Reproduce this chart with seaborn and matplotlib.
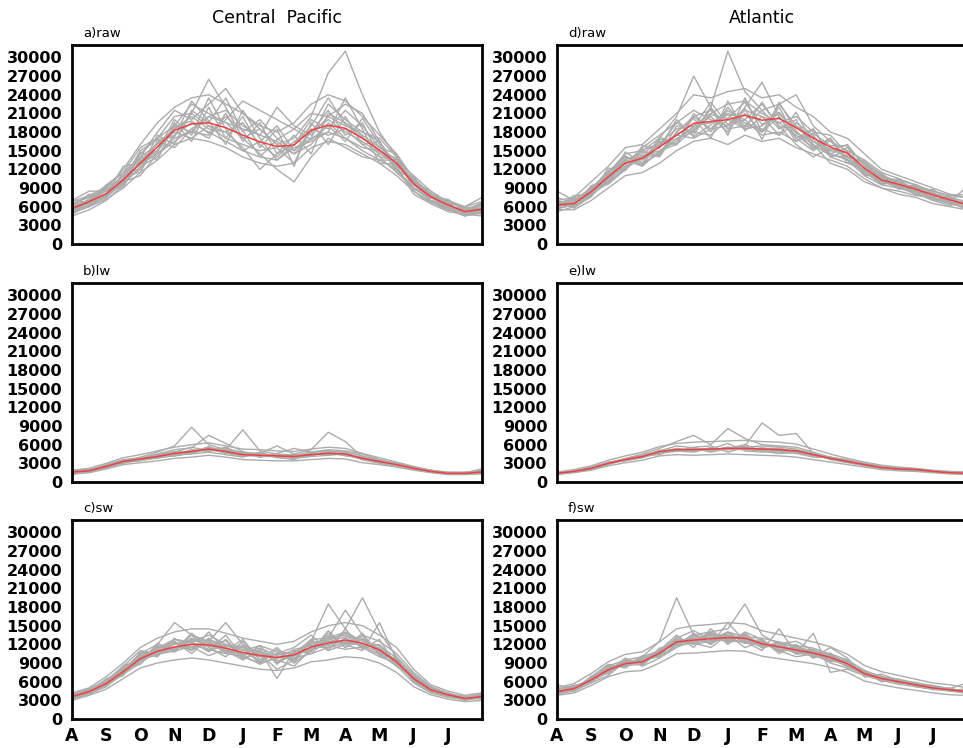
import numpy as np
import pandas as pd
import matplotlib
matplotlib.use('Agg')
import matplotlib.pyplot as plt
import seaborn as sns

# x positions in months since 1 Aug (25 points, half-month spacing)
months = [i * 0.5 for i in range(25)]
month_labels = ['A', 'S', 'O', 'N', 'D', 'J', 'F', 'M', 'A', 'M', 'J', 'J', '']
yticks = list(range(0, 30001, 3000))

# values in thousands
cp_raw_mean = [5.7, 6.8, 8.1, 10.3, 13.0, 15.6, 18.3, 19.3, 19.5, 18.7, 17.5, 16.4, 15.7,
               15.9, 18.3, 19.1, 18.6, 17.0, 15.1, 13.0, 9.7, 7.6, 6.3, 5.2, 5.6]
cp_raw_members = [
    [6.5, 7.5, 9.0, 12.0, 16.0, 19.5, 22.0, 23.5, 24.0, 22.5, 21.0, 19.0, 18.0, 19.5, 22.5, 24.0, 23.0, 20.5, 17.5, 14.5, 10.5, 8.0, 6.5, 6.0, 6.8],
    [5.0, 6.0, 7.2, 9.0, 11.5, 13.5, 16.0, 17.0, 16.5, 15.5, 14.0, 13.0, 12.5, 13.0, 15.5, 16.5, 16.0, 14.5, 13.0, 11.0, 8.5, 6.5, 5.5, 4.5, 5.0],
    [6.0, 7.0, 9.5, 11.5, 14.0, 18.0, 21.5, 20.0, 22.5, 25.0, 21.0, 18.5, 16.0, 17.0, 20.5, 27.5, 31.0, 24.0, 18.0, 14.0, 10.0, 7.0, 6.0, 5.5, 6.5],
    [4.5, 5.5, 7.0, 9.5, 12.5, 14.0, 17.5, 21.0, 26.5, 22.0, 17.0, 14.5, 12.0, 10.0, 14.0, 17.0, 15.5, 14.0, 13.5, 12.0, 9.0, 7.5, 6.0, 4.8, 4.5],
    [7.0, 8.5, 8.5, 11.0, 14.5, 17.0, 19.0, 18.0, 17.5, 20.0, 23.0, 21.5, 20.0, 18.5, 21.0, 20.5, 22.5, 21.0, 16.5, 12.5, 10.5, 8.0, 7.0, 6.0, 7.5],
    [5.5, 6.5, 8.0, 10.0, 12.0, 16.5, 17.5, 19.5, 18.0, 16.5, 15.0, 14.0, 13.5, 15.5, 16.5, 18.0, 17.0, 15.0, 13.5, 13.5, 11.0, 8.5, 6.5, 5.0, 5.2],
    [6.2, 7.0, 8.5, 9.5, 13.5, 15.0, 19.0, 22.5, 21.0, 19.5, 18.5, 17.5, 22.0, 19.0, 17.5, 20.5, 19.0, 18.0, 16.5, 12.0, 8.5, 6.8, 5.8, 4.5, 5.5],
    [4.8, 6.2, 7.5, 10.5, 14.0, 16.0, 18.0, 17.0, 19.0, 18.0, 15.5, 12.0, 14.5, 16.0, 20.0, 18.5, 21.5, 19.0, 15.5, 13.5, 10.0, 8.5, 6.8, 5.8, 6.0],
    [5.8, 7.2, 8.8, 10.8, 12.8, 14.5, 16.5, 18.5, 20.5, 21.5, 19.0, 17.5, 16.5, 14.5, 17.0, 22.5, 20.0, 18.0, 17.0, 14.0, 9.5, 7.5, 6.0, 5.0, 5.8],
    [6.8, 7.8, 9.2, 11.5, 15.5, 17.0, 20.5, 21.0, 19.0, 17.0, 16.0, 15.0, 15.5, 13.0, 18.5, 17.5, 18.5, 16.0, 14.0, 11.5, 9.0, 7.0, 5.5, 5.5, 6.2],
    [5.2, 6.0, 7.8, 10.0, 11.0, 14.5, 17.0, 18.0, 20.5, 19.5, 17.0, 18.5, 16.0, 14.5, 16.0, 19.5, 17.0, 15.5, 15.0, 12.5, 8.0, 6.5, 5.2, 4.8, 5.0],
    [6.0, 6.5, 7.5, 9.8, 13.2, 16.2, 18.5, 20.5, 18.5, 18.0, 19.5, 16.0, 14.0, 16.5, 18.0, 20.0, 18.0, 16.5, 14.5, 13.0, 10.2, 7.8, 6.8, 5.5, 5.8],
    [6.0, 8.0, 7.5, 11.5, 12.0, 17.5, 16.0, 21.5, 19.5, 23.5, 18.0, 20.0, 17.0, 15.0, 18.0, 21.5, 17.5, 19.5, 14.0, 13.5, 9.0, 8.0, 6.0, 5.5, 5.0],
    [5.5, 6.8, 9.0, 9.0, 14.8, 13.5, 19.5, 16.5, 22.0, 17.0, 20.5, 15.5, 18.5, 12.5, 19.5, 16.0, 20.5, 16.0, 16.5, 12.0, 10.5, 7.0, 6.5, 4.8, 6.5],
    [7.2, 6.5, 8.0, 11.0, 11.5, 16.5, 15.5, 18.5, 17.0, 21.0, 16.5, 19.5, 14.5, 17.5, 14.5, 21.0, 19.5, 17.5, 15.5, 14.5, 9.5, 8.2, 5.8, 5.8, 5.4],
    [4.8, 7.0, 8.6, 10.4, 13.8, 15.0, 20.0, 17.5, 23.5, 18.5, 15.0, 16.5, 19.0, 15.0, 17.0, 18.0, 23.5, 18.5, 13.0, 12.8, 9.8, 6.8, 6.2, 5.2, 4.8],
    [6.4, 7.6, 7.8, 12.5, 13.0, 14.8, 18.8, 19.8, 17.8, 20.5, 18.2, 14.0, 16.8, 18.5, 16.8, 19.0, 16.5, 20.2, 16.0, 11.5, 10.8, 7.4, 7.2, 5.4, 6.6],
    [5.4, 6.2, 9.4, 10.2, 15.0, 16.8, 17.2, 23.0, 19.8, 16.0, 21.5, 17.0, 13.5, 16.0, 19.0, 23.5, 19.2, 17.2, 14.8, 13.8, 8.8, 7.8, 5.6, 5.2, 5.6],
]

cp_lw_mean = [1.6, 1.8, 2.5, 3.3, 3.7, 4.1, 4.6, 4.9, 5.3, 4.9, 4.4, 4.3, 4.2,
              4.1, 4.4, 4.6, 4.5, 3.8, 3.3, 2.8, 2.2, 1.7, 1.4, 1.4, 1.6]
cp_lw_members = [
    [1.9, 2.2, 3.0, 3.9, 4.4, 5.0, 5.6, 6.0, 6.3, 5.8, 5.3, 5.2, 5.0, 4.9, 5.3, 5.6, 5.4, 4.6, 3.9, 3.2, 2.5, 1.9, 1.6, 1.6, 1.8],
    [1.3, 1.5, 2.1, 2.8, 3.1, 3.4, 3.8, 4.0, 4.3, 4.0, 3.6, 3.5, 3.4, 3.4, 3.6, 3.8, 3.7, 3.1, 2.8, 2.4, 1.9, 1.5, 1.2, 1.2, 1.3],
    [1.7, 1.9, 2.6, 3.5, 4.0, 4.8, 5.8, 8.8, 6.0, 5.2, 8.4, 5.0, 4.5, 4.3, 4.8, 5.0, 4.8, 4.2, 3.5, 3.0, 2.4, 1.8, 1.5, 1.5, 2.1],
    [1.5, 1.7, 2.4, 3.0, 3.5, 3.9, 4.2, 4.7, 5.5, 5.2, 4.8, 4.6, 5.8, 4.5, 5.2, 8.0, 6.5, 4.0, 3.4, 2.9, 2.3, 1.8, 1.4, 1.3, 1.5],
    [2.0, 1.9, 2.8, 3.6, 3.8, 4.5, 5.2, 5.5, 7.5, 6.2, 4.9, 4.0, 4.6, 5.4, 4.8, 5.2, 5.0, 4.5, 3.6, 3.0, 2.0, 1.6, 1.5, 1.4, 1.7],
    [1.4, 1.6, 2.3, 3.1, 3.6, 3.8, 4.4, 4.5, 4.8, 4.4, 4.0, 4.8, 3.9, 3.8, 4.1, 4.3, 4.6, 3.6, 3.1, 2.6, 2.1, 1.6, 1.3, 1.3, 1.5],
    [1.8, 2.0, 2.7, 3.4, 3.9, 4.3, 4.8, 5.6, 5.0, 5.5, 4.6, 4.2, 4.4, 4.2, 4.2, 4.9, 4.2, 3.9, 3.2, 2.7, 2.2, 1.7, 1.4, 1.5, 1.6],
    [1.2, 1.6, 2.2, 3.2, 3.4, 4.0, 4.2, 4.6, 5.6, 4.6, 4.2, 4.4, 4.0, 3.6, 4.6, 4.4, 4.8, 3.6, 3.0, 2.6, 2.4, 1.9, 1.5, 1.3, 1.4],
    [1.6, 1.8, 2.6, 3.2, 3.8, 4.2, 4.5, 5.1, 5.2, 4.7, 4.5, 4.5, 4.3, 4.3, 4.5, 4.4, 4.4, 4.0, 3.4, 2.8, 2.1, 1.6, 1.4, 1.4, 1.6],
    [1.5, 2.0, 2.4, 3.4, 3.6, 4.4, 4.9, 4.6, 5.4, 5.0, 4.3, 4.1, 4.1, 4.0, 4.6, 4.7, 4.3, 3.7, 3.3, 2.9, 2.2, 1.7, 1.3, 1.4, 1.9],
    [1.5, 1.9, 2.3, 3.5, 3.5, 4.4, 4.3, 5.2, 4.9, 5.6, 4.1, 4.6, 4.0, 4.4, 4.2, 5.0, 4.3, 4.0, 3.1, 2.9, 2.1, 1.8, 1.3, 1.5, 1.5],
    [1.7, 1.7, 2.7, 3.1, 3.9, 3.9, 4.9, 4.7, 5.7, 4.6, 4.8, 4.0, 4.5, 3.9, 4.7, 4.4, 4.7, 3.6, 3.5, 2.7, 2.3, 1.6, 1.5, 1.3, 1.7],
    [1.6, 2.1, 2.4, 3.3, 3.6, 4.2, 4.7, 5.0, 5.1, 5.2, 4.2, 4.5, 4.1, 4.2, 4.3, 4.8, 4.4, 3.9, 3.2, 2.9, 2.1, 1.8, 1.4, 1.4, 1.5],
]

cp_sw_mean = [3.6, 4.4, 5.7, 7.6, 9.7, 10.9, 11.6, 12.0, 11.9, 11.4, 10.7, 10.2, 9.9,
              10.3, 11.6, 12.2, 12.7, 12.2, 11.1, 9.2, 6.5, 4.7, 3.9, 3.3, 3.6]
cp_sw_members = [
    [4.2, 5.0, 6.8, 9.0, 11.5, 13.0, 14.0, 14.5, 14.5, 13.8, 13.0, 12.5, 12.0, 12.5, 14.0, 15.0, 15.5, 15.0, 13.5, 11.5, 8.0, 5.5, 4.5, 3.8, 4.2],
    [3.0, 3.8, 4.8, 6.5, 8.2, 9.0, 9.5, 9.8, 9.5, 9.0, 8.5, 8.0, 7.8, 8.2, 9.2, 9.5, 10.0, 9.8, 9.0, 7.5, 5.2, 3.9, 3.2, 2.8, 3.0],
    [3.8, 4.6, 6.0, 8.0, 10.5, 12.0, 15.5, 13.5, 12.5, 15.5, 12.0, 10.5, 8.0, 9.5, 12.5, 18.5, 14.5, 19.5, 14.0, 10.0, 7.0, 5.0, 4.0, 3.5, 3.8],
    [3.3, 4.0, 5.3, 7.2, 9.0, 11.5, 12.5, 10.5, 13.0, 11.0, 9.5, 11.0, 6.5, 11.0, 10.5, 13.0, 17.5, 13.5, 12.5, 10.5, 7.5, 5.2, 4.2, 3.4, 3.3],
    [4.0, 4.8, 6.2, 8.5, 11.0, 10.5, 11.0, 13.8, 11.5, 10.0, 12.5, 9.5, 10.5, 11.5, 13.5, 11.0, 12.0, 11.0, 15.5, 9.5, 6.0, 4.4, 3.7, 3.2, 4.2],
    [3.5, 4.2, 5.5, 7.5, 9.5, 11.8, 11.2, 12.5, 10.8, 12.8, 10.0, 9.0, 11.2, 9.0, 11.0, 13.8, 11.5, 12.8, 10.5, 8.5, 6.8, 4.8, 3.8, 3.0, 3.5],
    [3.7, 4.5, 5.8, 7.0, 10.2, 10.2, 12.2, 11.0, 12.8, 11.8, 11.5, 10.8, 9.2, 10.8, 12.2, 12.8, 13.5, 11.5, 10.0, 9.0, 6.2, 4.6, 3.9, 3.4, 3.7],
    [3.4, 4.3, 5.5, 8.2, 9.0, 11.0, 10.8, 12.0, 11.2, 10.5, 10.2, 8.8, 10.0, 9.8, 10.5, 11.5, 12.2, 12.0, 11.5, 8.8, 6.4, 4.5, 3.6, 3.2, 3.4],
    [3.9, 4.6, 6.4, 7.8, 9.8, 11.4, 12.8, 12.4, 13.5, 12.0, 11.0, 11.8, 10.8, 10.5, 12.8, 13.0, 14.0, 12.5, 11.8, 9.8, 7.2, 5.0, 4.1, 3.6, 3.9],
    [3.2, 4.1, 5.2, 7.4, 9.4, 10.4, 11.0, 11.6, 10.2, 11.2, 9.8, 10.5, 9.5, 8.5, 11.2, 11.8, 11.2, 11.6, 10.4, 8.6, 5.8, 4.2, 3.5, 3.1, 3.5],
    [3.6, 4.7, 5.9, 7.9, 10.0, 11.2, 12.0, 12.6, 12.2, 11.6, 11.8, 10.0, 10.4, 10.6, 12.0, 12.4, 13.2, 13.0, 11.0, 9.4, 6.6, 4.9, 4.0, 3.4, 3.7],
    [3.5, 4.2, 5.6, 7.3, 9.6, 10.8, 11.5, 11.6, 12.0, 11.2, 10.4, 10.6, 9.8, 10.1, 11.4, 12.0, 12.4, 11.8, 10.8, 9.0, 6.4, 4.6, 3.8, 3.2, 3.6],
    [3.8, 4.2, 6.2, 7.0, 10.5, 10.0, 13.0, 11.0, 14.0, 11.0, 12.8, 9.5, 11.5, 9.0, 12.8, 11.0, 14.5, 11.2, 12.8, 8.5, 7.0, 4.6, 4.2, 3.0, 3.8],
    [3.4, 4.8, 5.2, 8.4, 9.0, 12.2, 10.8, 13.5, 11.0, 13.5, 10.0, 11.8, 8.8, 11.0, 10.8, 14.2, 11.5, 13.8, 10.2, 9.8, 6.0, 5.2, 3.6, 3.6, 3.4],
    [4.0, 4.1, 6.0, 7.2, 10.8, 10.4, 12.4, 11.2, 12.4, 10.6, 11.6, 9.2, 10.6, 9.6, 12.6, 11.4, 13.0, 11.6, 12.0, 8.8, 7.0, 4.4, 4.2, 3.2, 4.0],
    [3.2, 4.6, 5.4, 8.0, 8.8, 11.6, 11.0, 13.0, 11.6, 12.6, 9.6, 11.2, 9.0, 10.4, 11.2, 13.4, 12.0, 13.4, 10.6, 9.6, 6.2, 5.0, 3.6, 3.4, 3.2],
    [3.6, 4.4, 6.4, 7.6, 10.4, 11.0, 12.8, 12.2, 11.0, 11.8, 11.2, 9.0, 9.8, 11.2, 11.8, 12.6, 13.8, 12.0, 11.4, 9.4, 6.8, 4.4, 4.0, 3.2, 3.8],
    [3.9, 4.0, 5.6, 8.6, 9.4, 10.6, 11.4, 12.8, 12.6, 10.8, 10.6, 11.4, 10.2, 9.4, 12.4, 12.4, 12.4, 12.8, 11.2, 8.9, 6.5, 4.9, 3.8, 3.5, 3.5],
]

atl_raw_mean = [6.3, 6.5, 8.4, 10.8, 13.0, 13.8, 15.6, 17.5, 19.4, 19.7, 20.0, 20.7, 19.9,
                20.2, 18.7, 17.0, 15.6, 14.6, 12.2, 10.3, 9.6, 8.8, 7.9, 7.1, 6.3]
atl_raw_members = [
    [7.0, 7.5, 10.0, 12.5, 15.5, 16.0, 18.5, 21.0, 24.0, 23.5, 24.5, 25.0, 23.5, 24.0, 22.0, 20.5, 18.0, 17.0, 14.5, 12.0, 11.0, 10.0, 9.0, 8.0, 7.5],
    [5.5, 5.5, 7.0, 9.0, 11.0, 11.5, 13.0, 15.0, 16.5, 17.0, 16.0, 17.5, 16.5, 17.0, 15.5, 14.5, 13.5, 12.5, 10.5, 9.0, 8.0, 7.5, 6.5, 6.0, 5.5],
    [6.0, 7.0, 9.0, 11.5, 14.5, 15.0, 17.0, 20.5, 27.0, 22.0, 31.0, 24.5, 21.5, 22.5, 19.0, 16.5, 14.5, 15.5, 13.0, 11.0, 10.0, 9.0, 8.0, 7.5, 6.8],
    [6.5, 6.0, 8.0, 10.0, 12.0, 14.5, 16.5, 16.0, 18.5, 20.5, 18.0, 22.0, 26.0, 20.5, 17.0, 15.0, 17.0, 13.5, 11.0, 9.5, 9.0, 8.5, 7.5, 6.5, 6.0],
    [8.5, 7.0, 8.5, 11.5, 14.0, 13.0, 14.5, 18.0, 20.5, 18.5, 21.5, 19.5, 18.0, 22.5, 24.0, 19.0, 16.5, 15.0, 13.5, 11.5, 10.5, 9.5, 8.5, 7.8, 8.0],
    [5.8, 6.2, 7.8, 10.2, 12.5, 14.0, 16.0, 17.5, 17.0, 18.5, 19.0, 20.0, 17.5, 18.0, 16.5, 18.5, 14.5, 13.5, 11.5, 10.0, 9.2, 8.0, 7.2, 6.5, 5.8],
    [6.8, 6.8, 9.2, 11.0, 13.5, 12.5, 15.0, 16.5, 19.0, 21.0, 22.5, 23.0, 21.0, 19.5, 17.5, 15.5, 15.0, 16.0, 12.5, 10.8, 10.2, 9.5, 8.2, 7.0, 6.5],
    [5.2, 6.0, 8.0, 9.8, 12.2, 13.8, 14.5, 17.0, 18.0, 17.5, 20.0, 18.5, 19.0, 21.0, 18.0, 16.0, 13.0, 12.0, 10.0, 9.0, 8.5, 7.8, 7.5, 6.8, 5.5],
    [6.2, 7.2, 8.8, 11.8, 12.8, 15.5, 17.5, 19.5, 21.5, 20.0, 19.0, 21.5, 20.5, 19.5, 20.5, 18.0, 17.5, 14.5, 12.8, 10.5, 9.8, 9.0, 8.0, 7.2, 6.5],
    [7.5, 6.5, 8.2, 10.5, 13.8, 13.5, 16.2, 18.5, 19.0, 19.5, 21.0, 20.0, 22.5, 19.0, 16.0, 14.0, 15.5, 14.0, 11.8, 10.2, 9.0, 8.2, 7.0, 6.2, 6.8],
    [5.6, 6.4, 8.6, 11.2, 12.5, 14.2, 15.0, 16.0, 20.5, 21.5, 18.5, 19.0, 18.5, 17.5, 19.5, 17.5, 14.0, 13.0, 12.0, 9.8, 9.5, 9.2, 8.6, 7.6, 6.0],
    [6.6, 5.8, 7.6, 10.6, 13.2, 12.8, 14.8, 17.8, 18.2, 20.8, 20.2, 22.8, 19.2, 21.2, 17.8, 16.6, 15.2, 14.2, 13.2, 11.2, 9.4, 8.4, 7.4, 6.8, 9.2],
    [6.0, 7.8, 8.0, 12.2, 12.0, 15.0, 14.2, 19.0, 18.0, 22.0, 18.5, 21.0, 18.0, 22.0, 17.0, 18.5, 14.0, 15.0, 11.0, 11.0, 9.0, 9.4, 7.2, 7.4, 6.0],
    [7.0, 6.2, 9.0, 10.0, 14.8, 13.0, 17.2, 16.0, 21.0, 18.0, 22.0, 19.0, 21.5, 18.5, 20.0, 15.5, 17.0, 13.0, 13.5, 9.5, 10.4, 8.0, 8.4, 6.4, 7.0],
    [5.8, 7.0, 7.6, 11.5, 11.8, 15.2, 15.8, 19.5, 17.5, 21.8, 17.5, 23.5, 18.0, 20.5, 16.5, 17.8, 15.8, 15.8, 11.2, 10.8, 8.8, 9.6, 7.6, 7.6, 6.2],
    [6.8, 5.8, 9.4, 10.0, 13.5, 14.8, 14.0, 18.0, 20.2, 17.0, 23.0, 18.2, 20.5, 17.5, 21.2, 16.0, 14.2, 14.0, 13.0, 10.0, 10.0, 8.6, 8.2, 6.6, 6.4],
    [6.2, 7.4, 8.2, 11.0, 14.2, 12.6, 16.8, 16.8, 18.8, 22.8, 19.2, 21.8, 16.8, 22.8, 18.2, 15.2, 16.6, 13.6, 12.0, 11.4, 9.2, 9.0, 7.0, 7.8, 7.4],
    [6.4, 6.6, 8.8, 9.6, 12.0, 15.8, 15.4, 20.0, 17.2, 19.2, 20.8, 18.6, 22.8, 18.8, 19.0, 17.2, 15.0, 14.8, 11.6, 9.6, 10.6, 8.0, 8.8, 6.8, 5.8],
]

atl_lw_mean = [1.4, 1.7, 2.2, 3.0, 3.6, 4.1, 4.9, 5.2, 5.2, 5.3, 5.4, 5.4, 5.3,
               5.2, 5.0, 4.4, 3.8, 3.3, 2.8, 2.3, 2.1, 2.0, 1.7, 1.5, 1.4]
atl_lw_members = [
    [1.6, 2.0, 2.6, 3.5, 4.2, 4.8, 5.7, 6.2, 6.4, 6.5, 6.6, 6.7, 6.5, 6.4, 6.1, 5.3, 4.5, 3.8, 3.2, 2.7, 2.4, 2.2, 1.9, 1.7, 1.6],
    [1.2, 1.5, 1.9, 2.6, 3.1, 3.5, 4.2, 4.4, 4.3, 4.4, 4.5, 4.4, 4.3, 4.2, 4.0, 3.6, 3.2, 2.8, 2.4, 2.0, 1.8, 1.7, 1.5, 1.3, 1.2],
    [1.5, 1.8, 2.3, 3.1, 3.8, 4.5, 5.4, 6.5, 7.5, 6.0, 8.6, 7.0, 6.0, 5.8, 5.6, 4.8, 4.0, 3.5, 3.0, 2.5, 2.3, 2.1, 1.8, 1.6, 1.5],
    [1.3, 1.6, 2.1, 2.9, 3.5, 4.0, 4.6, 5.0, 4.8, 5.5, 5.2, 5.8, 9.5, 7.5, 7.8, 4.6, 3.6, 3.1, 2.7, 2.2, 2.0, 1.9, 1.6, 1.4, 1.3],
    [1.5, 1.7, 2.4, 3.2, 3.6, 4.3, 5.0, 5.8, 5.5, 5.0, 5.6, 5.2, 5.0, 4.6, 4.7, 4.2, 4.0, 3.6, 2.9, 2.5, 2.2, 2.1, 1.8, 1.5, 1.4],
    [1.4, 1.6, 2.2, 3.0, 3.4, 3.9, 4.8, 4.9, 5.6, 5.8, 4.8, 5.6, 5.8, 5.6, 5.3, 4.6, 3.7, 3.2, 2.7, 2.2, 2.3, 2.0, 1.6, 1.4, 1.5],
    [1.3, 1.8, 2.0, 2.8, 3.7, 4.2, 4.4, 5.4, 5.0, 5.3, 6.2, 5.0, 4.8, 5.0, 4.6, 4.0, 3.9, 3.4, 2.9, 2.4, 2.0, 1.9, 1.7, 1.6, 1.3],
    [1.4, 1.7, 2.3, 3.1, 3.5, 4.0, 5.1, 5.0, 5.4, 4.8, 5.4, 6.0, 5.0, 4.6, 5.2, 4.5, 3.8, 3.2, 2.6, 2.2, 2.2, 2.0, 1.8, 1.5, 1.6],
    [1.5, 1.6, 2.2, 2.9, 3.7, 4.1, 4.9, 5.3, 5.1, 5.4, 5.3, 5.2, 5.4, 5.4, 4.8, 4.3, 3.9, 3.3, 2.8, 2.4, 2.1, 1.9, 1.7, 1.5, 1.4],
    [1.4, 1.8, 2.1, 3.0, 3.5, 4.2, 4.7, 5.1, 5.3, 5.1, 5.5, 5.5, 5.2, 5.0, 5.0, 4.5, 3.7, 3.4, 2.8, 2.3, 2.0, 2.0, 1.6, 1.5, 1.5],
    [1.5, 1.6, 2.3, 2.9, 3.7, 4.0, 5.0, 5.0, 5.5, 5.1, 5.6, 5.2, 5.5, 5.0, 5.1, 4.3, 3.9, 3.3, 2.9, 2.3, 2.2, 1.9, 1.7, 1.5, 1.5],
    [1.3, 1.8, 2.1, 3.1, 3.5, 4.2, 4.8, 5.4, 5.0, 5.5, 5.2, 5.6, 5.1, 5.4, 4.9, 4.5, 3.7, 3.4, 2.7, 2.4, 2.0, 2.1, 1.6, 1.6, 1.3],
    [1.4, 1.7, 2.2, 3.0, 3.6, 4.1, 4.6, 5.2, 5.3, 5.2, 5.3, 5.3, 5.4, 5.2, 5.0, 4.4, 3.8, 3.3, 2.8, 2.3, 2.1, 2.0, 1.7, 1.5, 1.4],
]

atl_sw_mean = [4.4, 4.9, 6.3, 7.9, 8.9, 9.2, 10.6, 12.4, 12.7, 12.9, 13.1, 13.0, 12.1,
               11.6, 11.1, 10.6, 9.9, 8.9, 7.3, 6.5, 6.0, 5.5, 5.0, 4.7, 4.4]
atl_sw_members = [
    [5.0, 5.7, 7.3, 9.2, 10.4, 10.8, 12.4, 14.5, 15.0, 15.2, 15.5, 15.3, 14.2, 13.6, 13.0, 12.4, 11.6, 10.4, 8.6, 7.6, 7.0, 6.4, 5.8, 5.5, 5.0],
    [3.8, 4.2, 5.4, 6.8, 7.6, 7.8, 9.0, 10.5, 10.6, 10.8, 11.0, 10.9, 10.1, 9.7, 9.3, 8.9, 8.3, 7.5, 6.1, 5.5, 5.0, 4.6, 4.2, 3.9, 3.8],
    [4.5, 5.0, 6.6, 8.5, 9.5, 10.0, 12.5, 19.5, 13.5, 14.0, 14.5, 18.5, 13.5, 12.0, 12.5, 11.0, 10.5, 9.5, 7.8, 6.8, 6.4, 5.8, 5.2, 4.8, 4.6],
    [4.2, 4.6, 6.0, 7.5, 9.8, 8.5, 9.8, 11.5, 13.8, 12.0, 15.5, 12.5, 11.0, 14.5, 10.5, 13.8, 7.5, 8.0, 7.0, 6.2, 5.6, 5.2, 4.8, 4.5, 4.2],
    [5.5, 4.8, 6.8, 8.8, 8.2, 10.0, 11.0, 13.5, 11.5, 14.5, 12.0, 14.0, 12.8, 10.5, 12.0, 9.8, 11.5, 9.8, 6.8, 7.2, 6.2, 5.8, 5.4, 4.9, 5.8],
    [4.0, 4.5, 5.8, 7.0, 9.2, 9.5, 10.0, 12.0, 12.2, 11.5, 13.5, 11.5, 12.5, 11.0, 10.0, 10.5, 9.0, 8.2, 7.6, 6.0, 6.4, 5.2, 4.8, 4.6, 4.1],
    [4.6, 5.2, 6.2, 8.2, 8.6, 8.8, 11.2, 11.8, 13.2, 13.5, 12.5, 13.8, 11.5, 12.2, 11.5, 11.0, 10.2, 9.2, 7.0, 6.8, 5.8, 5.6, 5.2, 4.8, 4.5],
    [4.3, 5.0, 6.5, 7.6, 9.0, 9.6, 10.4, 12.8, 12.0, 12.5, 13.0, 12.2, 12.0, 11.2, 10.8, 10.2, 9.6, 8.6, 7.4, 6.4, 6.1, 5.4, 4.9, 4.6, 4.3],
    [4.8, 5.4, 6.0, 8.0, 9.4, 9.0, 11.0, 13.0, 14.2, 12.8, 14.0, 13.2, 13.0, 12.4, 11.8, 11.4, 10.4, 9.0, 7.2, 6.6, 5.9, 5.6, 5.1, 4.7, 4.7],
    [4.1, 4.6, 6.4, 7.8, 8.8, 9.4, 10.2, 11.6, 12.4, 13.2, 12.4, 12.6, 11.6, 11.8, 10.6, 10.2, 9.4, 8.8, 7.8, 6.3, 6.0, 5.4, 4.9, 4.6, 4.2],
    [4.4, 5.1, 6.1, 8.4, 8.5, 9.8, 10.8, 12.2, 12.6, 13.6, 13.4, 12.8, 12.4, 11.4, 11.4, 10.8, 9.8, 8.4, 7.1, 6.7, 6.2, 5.6, 5.1, 4.7, 4.5],
    [4.6, 4.7, 6.6, 7.7, 9.1, 9.1, 10.5, 12.6, 12.9, 12.3, 13.1, 13.4, 11.9, 11.8, 10.9, 10.4, 10.1, 9.1, 7.5, 6.4, 5.9, 5.4, 5.0, 4.8, 4.4],
    [4.2, 5.2, 6.0, 8.6, 8.4, 10.2, 10.0, 13.2, 12.0, 13.8, 12.2, 13.8, 11.6, 12.4, 10.6, 11.2, 9.4, 9.4, 7.0, 6.8, 5.8, 5.8, 4.8, 4.9, 4.2],
    [4.6, 4.6, 6.8, 7.4, 9.6, 8.8, 11.4, 12.0, 13.6, 12.2, 14.0, 12.4, 12.8, 11.0, 11.6, 10.0, 10.4, 8.6, 7.8, 6.2, 6.3, 5.3, 5.2, 4.6, 4.7],
    [4.0, 5.4, 5.8, 8.2, 8.6, 9.8, 10.2, 12.8, 12.4, 14.0, 12.6, 13.6, 11.4, 12.2, 10.4, 11.0, 9.2, 9.6, 6.8, 6.9, 5.7, 5.9, 4.7, 5.0, 4.0],
    [4.8, 4.4, 6.9, 7.3, 9.4, 8.6, 11.0, 12.2, 13.4, 12.0, 13.8, 12.2, 12.6, 10.8, 11.8, 9.8, 10.6, 8.4, 7.6, 6.0, 6.4, 5.2, 5.3, 4.5, 4.9],
    [4.3, 5.0, 6.2, 8.0, 9.2, 9.6, 10.8, 12.0, 13.0, 13.2, 12.8, 13.2, 12.2, 11.6, 11.2, 10.6, 9.8, 9.0, 7.3, 6.6, 6.0, 5.6, 5.0, 4.7, 4.3],
    [4.5, 4.8, 6.4, 7.8, 8.8, 9.0, 10.4, 12.6, 12.4, 12.6, 13.4, 12.6, 11.8, 11.8, 10.8, 10.6, 10.0, 8.8, 7.2, 6.5, 6.1, 5.5, 4.9, 4.8, 4.5],
]

panels = [
    ('a)raw', cp_raw_mean, cp_raw_members, 0, 0),
    ('b)lw', cp_lw_mean, cp_lw_members, 1, 0),
    ('c)sw', cp_sw_mean, cp_sw_members, 2, 0),
    ('d)raw', atl_raw_mean, atl_raw_members, 0, 1),
    ('e)lw', atl_lw_mean, atl_lw_members, 1, 1),
    ('f)sw', atl_sw_mean, atl_sw_members, 2, 1),
]

sns.set_style('white')
plt.rcParams['font.family'] = ['DejaVu Sans']
plt.rcParams['text.color'] = 'black'
plt.rcParams['xtick.color'] = 'black'
plt.rcParams['ytick.color'] = 'black'

fig = plt.figure(figsize=(9.63, 7.48), dpi=100)

col_x = [72 / 963, 557 / 963]
width = 410 / 963
row_bottom = [1 - 244 / 748, 1 - 482 / 748, 1 - 719 / 748]
height = 199 / 748

for label, mean, members, r, c in panels:
    ax = fig.add_axes([col_x[c], row_bottom[r], width, height])
    rows = []
    for k, m in enumerate(members):
        for x, v in zip(months, m):
            rows.append({'month': x, 'value': v * 1000, 'member': k})
    df = pd.DataFrame(rows)
    sns.lineplot(data=df, x='month', y='value', units='member', estimator=None,
                 color='#acacac', linewidth=1.0, ax=ax, legend=False)
    sns.lineplot(x=months, y=[v * 1000 for v in mean], color='#f04040',
                 linewidth=1.1, ax=ax)
    ax.set_xlim(0, 12)
    ax.set_ylim(0, 32000)
    ax.set_yticks(yticks)
    ax.set_yticklabels([str(t) for t in yticks], fontsize=11.5, fontweight='bold')
    ax.set_xticks(range(13))
    if r == 2:
        ax.set_xticklabels(month_labels, fontsize=12.5, fontweight='bold')
    else:
        ax.set_xticklabels([])
    ax.set_xlabel('')
    ax.set_ylabel('')
    ax.tick_params(axis='both', direction='out', length=5, width=1.5, pad=1,
                   color='black', labelcolor='black')
    ax.tick_params(axis='y', pad=2)
    for s in ax.spines.values():
        s.set_linewidth(2)
        s.set_color('black')
    ax.text(0.027, 1.025, label, transform=ax.transAxes, fontsize=9.5,
            ha='left', va='bottom', color='black')

fig.text((72 + 482) / 2 / 963, 1 - 18 / 748, 'Central  Pacific', ha='center',
         va='center', fontsize=12.5, color='black')
fig.text((557 + 967) / 2 / 963, 1 - 18 / 748, 'Atlantic', ha='center',
         va='center', fontsize=12.5, color='black')

fig.savefig('out.png', dpi=100)
